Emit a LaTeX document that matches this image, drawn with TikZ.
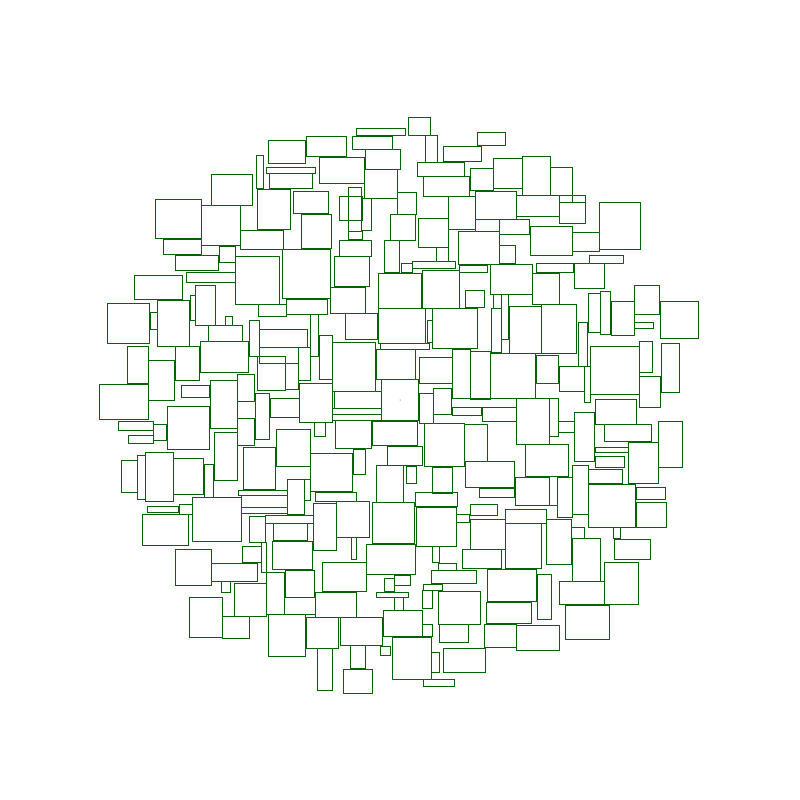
\documentclass[tikz,border=0pt]{standalone}
\definecolor{boxgreen}{RGB}{0,100,0}
\tikzset{box/.style={draw=boxgreen,line width=0.9pt}}
\begin{document}
\begin{tikzpicture}[x=1pt,y=-1pt]
\useasboundingbox (0,0) rectangle (800,800);
\foreach \a/\b/\c/\d in {
268/140/305/163, 306/136/346/156, 256/155/263/188, 266/167/315/173, 269/173/312/188,
319/157/364/183, 356/128/405/135, 352/136/392/149, 408/117/430/135, 425/135/437/162,
365/149/400/169, 364/169/397/198, 477/132/505/145, 443/146/481/161, 417/162/464/176,
423/176/469/196, 470/168/493/190, 493/158/522/188, 211/174/252/205, 293/191/328/213,
155/199/201/238, 201/205/240/245, 257/189/290/229, 163/239/201/254, 240/230/283/249,
219/246/235/262, 175/255/218/270, 235/256/279/304, 282/249/330/298, 186/272/235/282,
134/275/182/299, 195/285/215/325, 190/295/195/320, 157/300/189/346, 107/303/149/343,
150/312/157/329, 258/304/286/316, 286/299/327/314, 339/196/362/220, 348/187/361/231,
361/198/371/230, 348/231/362/239, 397/192/416/214, 301/214/331/248,
339/240/371/256, 334/256/369/286, 330/287/365/313, 390/214/415/240, 384/240/399/272,
401/263/412/272, 378/273/421/308, 418/218/448/247, 436/247/448/261, 412/261/455/268,
422/270/459/308, 448/196/475/229, 475/191/516/219, 458/231/499/264, 475/219/499/231,
459/265/487/272, 490/264/532/294, 465/290/484/307, 522/156/550/195, 550/167/572/195,
516/195/559/216, 572/195/585/202, 559/202/585/223, 599/202/640/249, 572/232/599/251,
530/226/572/255, 499/219/529/234, 499/245/515/263, 589/255/623/263, 536/263/573/272,
574/263/604/288, 532/273/559/304, 541/304/576/353, 509/306/541/353, 501/294/508/339,
491/308/501/352, 493/294/501/308, 588/293/600/332, 600/291/610/334, 611/301/634/335,
634/285/659/314, 660/301/698/338, 634/322/653/328, 501/339/509/353,
225/316/232/325, 208/325/242/341, 200/341/248/372, 175/346/199/380, 127/346/148/383,
148/360/174/400, 99/384/148/419, 181/385/209/397, 210/380/237/428, 167/406/209/449,
237/374/254/401, 237/401/255/418, 237/418/254/445, 255/393/269/439, 249/320/259/356,
259/329/307/347, 259/347/298/363, 257/356/285/390, 285/363/298/389, 270/398/299/417,
276/429/310/466, 118/421/153/430, 153/424/166/440, 128/435/153/443, 214/432/237/480,
243/447/275/489, 121/460/137/492, 137/455/145/499, 145/452/173/501, 173/458/203/494,
204/464/213/497, 238/490/287/495, 287/479/304/514, 304/479/310/500,
192/497/241/541, 179/504/192/514, 147/506/178/512, 142/514/188/545, 241/495/287/507,
241/507/287/513, 249/516/265/542, 265/515/313/523, 273/523/307/540, 261/542/266/572,
266/572/284/614, 272/541/312/569, 242/546/261/562, 175/549/211/585, 211/563/257/581,
221/581/230/592, 234/583/266/616, 285/570/314/597, 284/597/315/614, 189/597/222/637,
222/616/249/638, 268/614/305/656,
310/314/318/356, 319/335/332/379, 332/342/375/391, 298/347/310/380, 345/313/377/339,
378/308/425/343, 380/343/429/349, 432/308/477/348, 427/320/432/342, 376/349/415/379,
419/357/452/383, 452/349/470/398, 470/351/490/399, 381/379/418/420, 299/383/332/422,
334/391/381/408, 332/408/381/414, 332/414/381/420, 419/393/433/423, 433/388/451/414,
451/398/516/407, 452/407/481/415, 482/407/516/421, 424/423/464/466, 464/424/487/461,
314/422/325/436, 335/420/371/448, 372/421/417/445, 387/446/422/465, 353/449/365/474,
310/453/352/491, 315/492/356/501, 313/503/336/550, 336/501/369/537, 376/465/403/502,
406/466/416/483, 432/467/452/493, 415/492/457/506, 465/461/514/487, 479/488/514/497,
372/502/414/543, 416/507/456/546, 456/514/469/522, 470/504/497/515, 470/519/505/549,
351/537/356/559, 432/546/439/562, 438/563/456/570, 431/570/476/583, 462/549/501/568,
366/544/415/574, 322/562/366/591, 384/578/394/591, 394/575/410/585, 376/592/408/597,
394/597/403/610, 423/584/442/590, 422/590/432/608, 438/591/480/624, 487/569/536/601,
486/602/531/623, 484/624/516/647, 315/592/356/617, 306/617/338/648, 340/617/382/645,
383/610/422/636, 422/624/432/636, 439/624/468/642, 317/648/332/690, 350/645/365/668,
343/669/372/693, 380/646/390/655, 392/637/431/679, 431/652/439/672, 443/648/485/672,
423/679/454/686,
490/353/535/398, 536/355/558/383, 559/366/584/391, 584/366/590/402, 578/322/587/366,
590/346/639/394, 639/341/652/372, 661/343/679/392, 639/376/660/407, 516/398/549/444,
549/398/558/436, 558/421/574/432, 574/412/594/461, 595/399/636/424, 604/424/651/441,
658/421/682/467, 595/447/628/452, 628/442/658/483, 595/456/624/467, 525/444/568/476,
515/477/549/505, 549/476/557/505, 557/477/572/517, 572/465/588/514, 588/469/622/483,
588/484/635/527, 636/487/665/499, 636/502/666/527, 505/509/546/523, 505/523/541/568,
546/519/571/564, 571/527/584/538, 572/538/600/581, 613/527/620/538, 614/539/650/559,
604/562/638/604, 559/581/604/604, 565/605/609/639, 537/574/551/619, 516/625/559/650}
{\draw[box] (\a,\b) rectangle (\c,\d);}
\fill[boxgreen] (400,400) circle (0.5);
\end{tikzpicture}
\end{document}
